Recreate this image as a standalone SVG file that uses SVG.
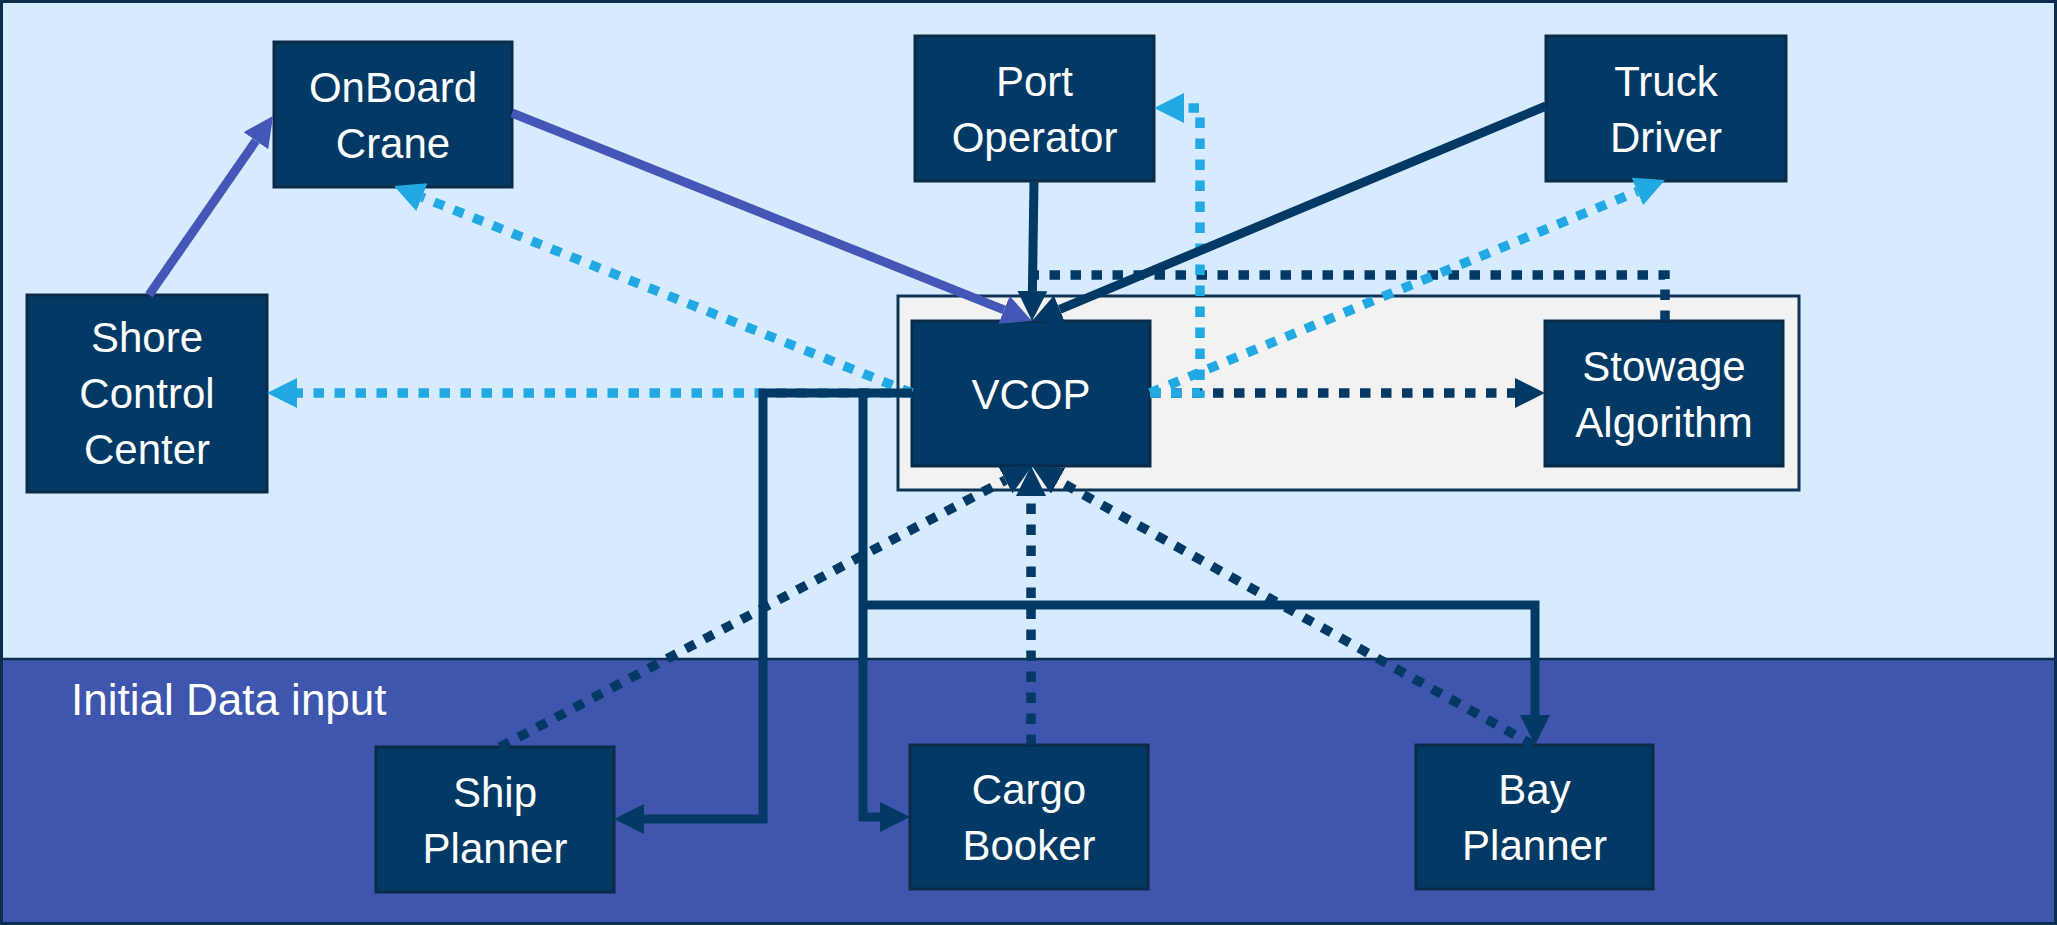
<svg xmlns="http://www.w3.org/2000/svg" width="2057" height="925" viewBox="0 0 2057 925">
<defs>
<style>
.node rect{fill:#023A65;stroke:#0B2A47;stroke-width:3}
.node text{fill:#FFFFFF;font-family:"Liberation Sans",Arial,sans-serif;font-size:42px;text-anchor:middle}
.c{fill:none;stroke-linejoin:miter}
.solid{stroke-width:9}
.dot{stroke-width:9.5;stroke-dasharray:10.5 10.5}
.dark{stroke:#023A65}
.cyan{stroke:#22A8E3}
.purple{stroke:#4456B6}
</style>
<marker id="aDark" markerUnits="userSpaceOnUse" markerWidth="31" markerHeight="31" refX="0" refY="15" orient="auto" viewBox="0 0 31 31"><path d="M0,0 L30,15 L0,30 Z" fill="#023A65"/></marker>
<marker id="aCyan" markerUnits="userSpaceOnUse" markerWidth="31" markerHeight="31" refX="0" refY="15" orient="auto" viewBox="0 0 31 31"><path d="M0,0 L30,15 L0,30 Z" fill="#22A8E3"/></marker>
<marker id="aPurple" markerUnits="userSpaceOnUse" markerWidth="31" markerHeight="31" refX="0" refY="15" orient="auto" viewBox="0 0 31 31"><path d="M0,0 L30,15 L0,30 Z" fill="#4456B6"/></marker>
</defs>

<g id="background">
<rect x="0" y="0" width="2057" height="925" fill="#D6ECFE"/>
<rect x="0" y="659" width="2057" height="266" fill="#3E56AD"/>
<line x1="0" y1="659" x2="2057" y2="659" stroke="#0B2E4F" stroke-width="2.5"/>
<rect x="1.5" y="1.5" width="2054" height="922" fill="none" stroke="#0B2E4F" stroke-width="3"/>
<text x="71" y="715" fill="#FFFFFF" font-family="'Liberation Sans',Arial,sans-serif" font-size="44">Initial Data input</text>
</g>

<g id="container">
<rect x="898" y="296" width="901" height="194" fill="#F2F2F2" stroke="#0E3354" stroke-width="3"/>
</g>

<g id="node-onboard-crane" class="node"><rect x="274" y="42" width="238" height="145"/><text><tspan x="393" y="101.5">OnBoard</tspan><tspan x="393" y="157.5">Crane</tspan></text></g>
<g id="node-port-operator" class="node"><rect x="915" y="36" width="239" height="145"/><text><tspan x="1034.5" y="95.5">Port</tspan><tspan x="1034.5" y="151.5">Operator</tspan></text></g>
<g id="node-truck-driver" class="node"><rect x="1546" y="36" width="240" height="145"/><text><tspan x="1666" y="95.5">Truck</tspan><tspan x="1666" y="151.5">Driver</tspan></text></g>
<g id="node-shore-control-center" class="node"><rect x="27" y="295" width="240" height="197"/><text><tspan x="147" y="352">Shore</tspan><tspan x="147" y="408">Control</tspan><tspan x="147" y="464">Center</tspan></text></g>
<g id="node-vcop" class="node"><rect x="912" y="321" width="238" height="145"/><text x="1031" y="408.5">VCOP</text></g>
<g id="node-stowage-algorithm" class="node"><rect x="1545" y="321" width="238" height="145"/><text><tspan x="1664" y="380.5">Stowage</tspan><tspan x="1664" y="436.5">Algorithm</tspan></text></g>
<g id="node-ship-planner" class="node"><rect x="376" y="747" width="238" height="145"/><text><tspan x="495" y="806.5">Ship</tspan><tspan x="495" y="862.5">Planner</tspan></text></g>
<g id="node-cargo-booker" class="node"><rect x="910" y="745" width="238" height="144"/><text><tspan x="1029" y="804">Cargo</tspan><tspan x="1029" y="860">Booker</tspan></text></g>
<g id="node-bay-planner" class="node"><rect x="1416" y="745" width="237" height="144"/><text><tspan x="1534.5" y="804">Bay</tspan><tspan x="1534.5" y="860">Planner</tspan></text></g>

<g id="connectors">
<!-- dark dotted -->
<path class="c dot dark" d="M1665,321 V275 H1037"/>
<path class="c dot dark" d="M1150,393 H1515" marker-end="url(#aDark)"/>
<path class="c dot dark" d="M500,747 L1005.5,480" marker-end="url(#aDark)"/>
<path class="c dot dark" d="M1031,745 V496" marker-end="url(#aDark)"/>
<path class="c dot dark" d="M1533,745 L1058.2,480.6" marker-end="url(#aDark)"/>
<!-- cyan dotted -->
<path class="c dot cyan" d="M912,393 H297" marker-end="url(#aCyan)"/>
<path class="c dot cyan" d="M912,393 L421.9,197.1" marker-end="url(#aCyan)"/>
<path class="c dot cyan" d="M1150,393 H1200 V108 H1184" marker-end="url(#aCyan)"/>
<path class="c dot cyan" d="M1150,393 L1637.3,191.5" marker-end="url(#aCyan)"/>
<!-- dark solid -->
<path class="c solid dark" d="M912,393 H763 V819 H644" marker-end="url(#aDark)"/>
<path class="c solid dark" d="M868,393 H863 V817 H880" marker-end="url(#aDark)"/>
<path class="c solid dark" d="M863,605 H1535 V715" marker-end="url(#aDark)"/>
<path class="c solid dark" d="M1034,181 L1032.4,291" marker-end="url(#aDark)"/>
<path class="c solid dark" d="M1546,106 L1059.7,309.4" marker-end="url(#aDark)"/>
<!-- purple solid -->
<path class="c solid purple" d="M149,295 L255.9,140.7" marker-end="url(#aPurple)"/>
<path class="c solid purple" d="M512,113 L1004.1,309.9" marker-end="url(#aPurple)"/>
</g>
</svg>
